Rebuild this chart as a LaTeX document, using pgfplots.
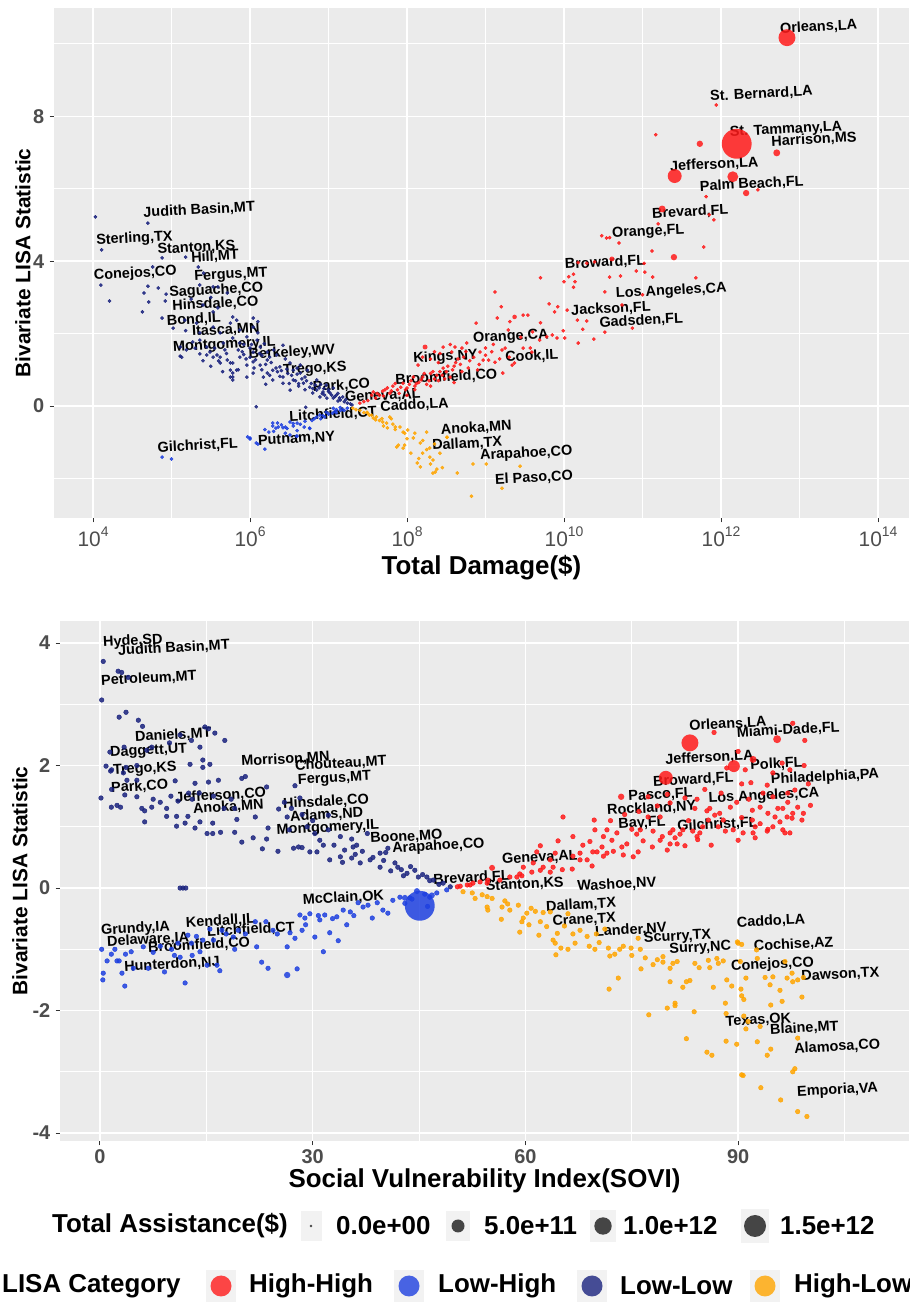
\documentclass[border=0pt]{standalone}
\usepackage{pgfplots}
\pgfplotsset{compat=1.18}
\usepackage{fontspec}
\setmainfont{Liberation Sans}
\definecolor{panelbg}{HTML}{EBEBEB}
\definecolor{tickgray}{HTML}{4D4D4D}
\definecolor{tickc}{HTML}{333333}
\definecolor{hh}{HTML}{FF1A1A}
\definecolor{lh}{HTML}{1E40E0}
\definecolor{ll}{HTML}{1A237E}
\definecolor{hl}{HTML}{FFA500}
\definecolor{keybg}{HTML}{F2F2F2}
\definecolor{dk}{HTML}{333333}
\newcommand{\tp}[1]{10\raisebox{0.48em}{\fontsize{14}{14}\selectfont #1}}
\tikzset{lab/.style={font=\fontsize{14.5}{15}\selectfont\bfseries, anchor=west, inner sep=0pt, rotate=3, text=black}}
\pgfplotsset{panel/.style={scale only axis, axis background/.style={fill=panelbg},
  axis line style={draw=none}, grid=both,
  major grid style={draw=white, line width=1.4bp},
  minor grid style={draw=white, line width=0.7bp},
  tick align=outside, major tick length=4.5bp, minor tick length=0pt,
  tick pos=left, tick style={draw=tickc, line width=1bp}, clip=false,
  yticklabel style={inner sep=0pt, anchor=east, xshift=-5bp},
  xticklabel style={inner sep=0pt, anchor=north, yshift=-4bp}},
  smallpt/.style 2 args={only marks, mark=*, mark size=#1, color=#2, mark options={draw=none, fill=#2, fill opacity=0.85}},
  sized/.style={scatter, only marks, mark=*, color=#1, mark options={draw=none},
   scatter/use mapped color={draw=none, draw opacity=0, fill=#1, fill opacity=0.85},
   visualization depends on={\thisrow{r} \as \rr}, scatter/@pre marker code/.append style={/tikz/mark size=\rr}}
}
\begin{document}
\begin{tikzpicture}[x=1bp,y=1bp]
\path[use as bounding box] (0,0) rectangle (909,1303);
% ================= TOP PANEL =================
\begin{axis}[panel, at={(54bp,785bp)}, anchor=south west, width=855bp, height=510bp,
  xmin=3.503, xmax=14.395, ymin=-3.09, ymax=10.99,
  xtick={4,6,8,10,12,14}, xticklabels={\tp{4},\tp{6},\tp{8},\tp{10},\tp{12},\tp{14}},
  minor xtick={5,7,9,11,13},
  ytick={0,4,8}, yticklabels={0,4,8}, minor ytick={-2,2,6,10},
  xticklabel style={font=\fontsize{21}{21}\selectfont, text=tickgray},
  yticklabel style={font=\fontsize{20}{20}\selectfont\bfseries, text=tickgray},
  xlabel={Total Damage(\$)}, ylabel={Bivariate LISA Statistic},
  xlabel style={font=\fontsize{26}{26}\selectfont\bfseries, at={(axis description cs:0.5,-0.098)}, anchor=center},
  ylabel style={font=\fontsize{21}{21}\selectfont\bfseries, at={(axis description cs:-0.0363,0.5)}, anchor=center},
]
% Low-Low (x = log10 of total damage)
\addplot[smallpt={1.6bp}{ll}] coordinates {
(4.03,5.22) (4.70,5.05) (4.11,4.31) (4.88,4.09) (5.18,4.11) (4.76,3.84) (5.34,3.84) (4.10,3.34) (4.70,3.31) (4.83,3.26)
(4.65,3.12) (5.36,3.34) (5.41,3.67) (5.59,3.29) (4.93,3.09) (4.21,2.90) (4.71,2.87) (4.92,2.90) (4.63,2.60) (4.88,2.43)
(5.02,2.15) (5.18,2.08) (5.11,1.38) (6.04,2.43) (6.10,2.33) (5.75,2.29) (5.83,2.37) (6.08,-0.02) (6.71,-0.03) (6.42,1.68)
(5.75,0.80) (5.85,1.00) (5.40,2.79) (5.53,2.60) (5.59,2.71) (5.87,2.10) (5.62,2.02) (5.36,1.82) (5.45,1.63) (5.66,1.74)
(5.78,1.88) (5.96,1.91) (6.09,1.82) (6.13,1.63) (6.04,1.49) (5.45,1.41) (5.58,1.41) (5.71,1.27) (5.78,1.19) (5.87,1.35)
(5.96,1.13) (6.04,1.22) (6.13,1.13) (6.22,1.27) (6.29,0.99) (6.22,0.91) (6.38,1.08) (6.42,0.80) (6.55,0.72) (6.64,0.91)
(6.68,0.63) (6.76,0.52) (6.85,0.44) (6.93,0.39) (7.02,0.36) (7.06,0.22) (7.15,0.17) (7.24,0.08) (6.80,0.36) (6.89,0.25)
(6.51,0.44) (6.42,0.63) (6.29,0.72) (6.17,0.80) (6.04,0.91) (5.96,0.80) (5.78,0.80) (5.83,0.99) (5.75,1.19) (5.62,1.35)
(5.49,1.49) (5.36,1.44) (5.19,1.55) (5.11,1.63) (5.27,1.77) (5.17,2.37) (5.32,2.29) (5.53,2.18) (5.78,2.46) (6.04,2.18)
(6.10,2.02) (5.87,1.74) (6.22,1.49) (6.34,1.41) (6.51,1.19) (6.55,0.99) (6.64,1.13) (6.73,0.99) (6.85,0.72) (6.97,0.58)
(7.06,0.50) (7.10,0.30) (7.18,0.25) (5.78,0.91) (5.75,0.99) (5.78,0.72) (5.62,1.19) (5.53,1.35) (5.13,1.35) (5.36,2.02)
(5.53,3.29) (5.71,3.12) (5.50,3.00) (5.25,2.95) (6.00,1.60) (6.18,1.72) (6.30,1.55) (6.45,1.30) (6.60,1.05) (6.70,0.80)
(6.90,0.60) (7.00,0.45) (7.12,0.35) (6.25,0.85) (6.35,0.95) (6.48,0.90) (6.58,0.70) (6.62,0.55) (6.95,0.30) (7.20,0.12)
(5.90,1.50) (5.95,1.30) (6.15,1.40) (6.05,1.05) (5.68,1.55) (5.55,1.60) (5.30,1.60) (5.40,1.25) (5.65,0.95) (6.20,0.60)
(5.85,1.55) (5.92,1.42) (6.00,1.35) (6.07,1.28) (6.12,1.45) (6.20,1.15) (6.27,1.20) (6.33,1.05) (6.40,0.98) (6.47,1.02)
(6.53,0.85) (6.60,0.88) (6.66,0.75) (6.72,0.70) (6.78,0.62) (6.83,0.58) (6.88,0.50) (6.94,0.48) (7.00,0.40) (7.04,0.30)
(7.08,0.26) (7.14,0.22) (7.22,0.18) (7.28,0.06) (7.30,0.03) (6.15,1.00) (6.25,1.35) (6.38,0.82) (6.50,0.62) (6.62,0.62)
(6.70,0.45) (6.80,0.48) (6.92,0.34) (6.98,0.22) (7.12,0.14) (5.92,1.70) (6.02,1.70) (5.70,1.45) (5.60,1.25) (5.50,1.10)
};
% Low-High
\addplot[smallpt={1.6bp}{lh}] coordinates {
(6.00,-0.91) (5.97,-0.85) (6.19,-1.19) (6.29,-0.55) (6.35,-0.47) (6.42,-0.60) (6.47,-0.62) (6.51,-0.44) (6.55,-0.55) (6.59,-0.83)
(6.64,-0.50) (6.69,-0.58) (6.76,-0.62) (6.79,-0.40) (6.85,-0.30) (6.93,-0.27) (7.00,-0.22) (7.08,-0.15) (7.15,-0.12) (7.24,-0.06)
(6.19,-0.65) (6.30,-0.70) (4.88,-1.41) (5.00,-1.46) (6.10,-1.05) (6.45,-0.75) (6.60,-0.68) (7.05,-0.20) (7.18,-0.10) (6.29,-0.47)
(6.33,-0.61) (6.45,-0.58) (6.51,-0.80) (6.24,-0.72) (6.60,-0.83) (6.89,-0.25) (6.97,-0.17) (7.06,-0.06) (7.15,-0.04) (6.60,-0.47)
(6.76,-0.61) (6.08,-1.02) (6.00,-0.88) (6.90,-0.35) (7.10,-0.10) (6.40,-0.52) (6.55,-0.48) (6.70,-0.42) (6.82,-0.35) (6.95,-0.30)
(7.10,-0.18) (7.20,-0.12) (6.36,-0.58)
};
% High-Low
\addplot[smallpt={1.6bp}{hl}] coordinates {
(7.31,-0.06) (7.40,-0.12) (7.50,-0.20) (7.61,-0.30) (7.74,-0.47) (7.91,-0.58) (7.97,-0.75) (7.89,-1.08) (7.95,-1.16) (8.10,-0.75)
(8.20,-0.95) (8.17,-1.68) (8.36,-1.82) (8.29,-1.41) (8.51,-0.86) (8.64,-1.85) (8.84,-1.60) (9.01,-1.60) (9.44,-1.66) (9.21,-2.27)
(8.82,-2.49) (8.42,-1.30) (7.65,-0.40) (7.80,-0.35) (7.85,-0.65) (8.00,-0.90) (8.05,-1.30) (8.25,-1.20) (8.30,-1.60) (8.35,-1.05)
(8.15,-1.45) (8.45,-1.70) (7.55,-0.25) (7.70,-0.55) (7.49,-0.17) (7.57,-0.33) (7.69,-0.44) (7.78,-0.30) (7.85,-0.58) (7.95,-0.72)
(8.01,-0.66) (8.08,-0.88) (8.17,-1.02) (8.20,-1.30) (8.25,-0.72) (8.33,-1.49) (8.38,-1.74) (7.87,-1.13) (7.97,-1.08) (8.13,-1.57)
(8.29,-1.16) (8.33,-1.85) (8.51,-0.86) (7.35,-0.10) (7.45,-0.18) (7.52,-0.25) (7.60,-0.38) (7.68,-0.35) (7.75,-0.60) (7.82,-0.50)
};
% High-High
\addplot[smallpt={1.6bp}{hh}] coordinates {
(7.40,0.08) (7.50,0.15) (7.57,0.39) (7.60,0.22) (7.69,0.41) (7.70,0.28) (7.78,0.35) (7.82,0.55) (7.88,0.45) (7.95,0.63)
(8.00,0.50) (8.05,0.70) (8.10,0.55) (8.14,1.13) (8.20,0.80) (8.30,0.90) (8.35,0.75) (8.40,1.20) (8.46,1.05) (8.50,0.95)
(8.57,1.49) (8.60,1.10) (8.65,1.30) (8.70,0.95) (8.75,1.50) (8.80,1.25) (8.93,1.49) (8.97,1.27) (9.04,1.27) (9.12,1.21)
(9.22,0.91) (9.34,1.13) (9.37,1.19) (8.46,1.63) (8.61,1.63) (8.76,1.74) (8.88,2.29) (9.15,2.43) (9.21,1.55) (9.29,2.10)
(9.31,2.33) (9.48,1.60) (9.48,2.51) (9.54,2.51) (9.57,1.60) (9.59,1.49) (9.69,1.82) (9.78,1.91) (9.85,1.96) (9.20,2.74)
(9.12,3.15) (9.70,3.54) (9.81,2.82) (9.92,2.74) (9.88,2.60) (10.04,2.65) (9.99,2.08) (10.01,1.88) (9.91,1.88) (10.17,2.37)
(10.29,2.35) (10.24,2.12) (10.18,1.74) (10.38,1.85) (10.52,2.04) (10.87,2.15) (10.52,3.15) (11.00,3.07) (10.74,2.79) (10.00,3.43)
(10.06,3.57) (10.12,3.64) (10.14,3.43) (10.12,3.28) (10.18,3.96) (10.29,3.94) (10.39,3.98) (10.58,3.56) (10.72,3.59) (10.92,3.73)
(11.03,3.70) (11.13,3.56) (11.68,3.54) (11.02,3.94) (10.48,4.70) (10.54,4.64) (10.58,4.65) (10.70,4.50) (11.12,4.28) (11.78,4.39)
(11.20,5.03) (11.85,5.28) (11.91,5.14) (11.81,5.78) (12.47,5.97) (11.17,7.49) (11.94,8.31) (9.00,1.60) (8.90,1.00) (9.10,1.70)
(9.30,1.35) (9.60,2.05) (9.70,2.30) (9.45,1.90) (7.75,0.50) (7.90,0.35) (8.00,0.30) (8.10,0.45) (8.15,0.65) (8.25,0.60)
(8.30,0.55) (8.40,0.70) (8.45,0.85) (8.55,0.80) (8.60,0.65) (8.20,1.35) (8.30,1.30) (8.35,1.50) (7.65,0.30) (7.92,0.52)
(7.45,0.12) (7.55,0.30) (7.62,0.35) (7.72,0.45) (7.80,0.42) (7.85,0.62) (7.98,0.45) (8.03,0.60) (8.08,0.80) (8.12,0.62)
(8.18,0.72) (8.22,0.90) (8.28,0.70) (8.33,0.95) (8.38,0.85) (8.42,0.95) (8.48,0.75) (8.52,1.10) (8.58,1.00) (8.62,1.20)
(8.68,1.15) (8.72,1.35) (8.78,1.05) (8.85,1.35) (8.92,1.15) (9.00,1.40) (9.08,1.50) (9.18,1.30) (9.25,1.60) (8.42,1.45)
(8.55,1.70) (8.70,1.60)
};
\addplot[sized=hh] table {
x y r
12.84 10.17 8.5
12.20 7.24 15
11.41 6.35 7
12.15 6.33 5.5
11.73 7.24 3.2
12.71 6.99 3.5
12.32 5.88 3.2
11.25 5.44 3.5
11.40 4.11 3.2
10.61 4.06 2.5
8.23 1.63 2.5
9.37 2.46 2.3
};
\node[lab] at (axis cs:4.64,5.33) {Judith Basin,MT};
\node[lab] at (axis cs:4.04,4.56) {Sterling,TX};
\node[lab] at (axis cs:4.82,4.31) {Stanton,KS};
\node[lab] at (axis cs:5.25,4.09) {Hill,MT};
\node[lab] at (axis cs:4.01,3.59) {Conejos,CO};
\node[lab] at (axis cs:5.29,3.56) {Fergus,MT};
\node[lab] at (axis cs:4.97,3.12) {Saguache,CO};
\node[lab] at (axis cs:5.01,2.76) {Hinsdale,CO};
\node[lab] at (axis cs:4.94,2.35) {Bond,IL};
\node[lab] at (axis cs:5.26,2.04) {Itasca,MN};
\node[lab] at (axis cs:5.02,1.60) {Montgomery,IL};
\node[lab] at (axis cs:5.98,1.41) {Berkeley,WV};
\node[lab] at (axis cs:6.42,0.97) {Trego,KS};
\node[lab] at (axis cs:6.80,0.52) {Park,CO};
\node[lab] at (axis cs:7.21,0.22) {Geneva,AL};
\node[lab] at (axis cs:7.85,0.72) {Broomfield,CO};
\node[lab] at (axis cs:8.08,1.30) {Kings,NY};
\node[lab] at (axis cs:7.66,-0.03) {Caddo,LA};
\node[lab] at (axis cs:6.50,-0.30) {Litchfield,CT};
\node[lab] at (axis cs:6.10,-0.97) {Putnam,NY};
\node[lab] at (axis cs:4.82,-1.16) {Gilchrist,FL};
\node[lab] at (axis cs:8.43,-0.66) {Anoka,MN};
\node[lab] at (axis cs:8.32,-1.10) {Dallam,TX};
\node[lab] at (axis cs:8.93,-1.38) {Arapahoe,CO};
\node[lab] at (axis cs:9.12,-2.04) {El Paso,CO};
\node[lab] at (axis cs:8.84,1.85) {Orange,CA};
\node[lab] at (axis cs:9.25,1.33) {Cook,IL};
\node[lab] at (axis cs:10.09,2.62) {Jackson,FL};
\node[lab] at (axis cs:10.45,2.29) {Gadsden,FL};
\node[lab] at (axis cs:10.66,3.09) {Los Angeles,CA};
\node[lab] at (axis cs:10.01,3.90) {Broward,FL};
\node[lab] at (axis cs:10.61,4.75) {Orange,FL};
\node[lab] at (axis cs:11.12,5.30) {Brevard,FL};
\node[lab] at (axis cs:11.73,6.05) {Palm Beach,FL};
\node[lab] at (axis cs:11.35,6.60) {Jefferson,LA};
\node[lab] at (axis cs:12.11,7.54) {St. Tammany,LA};
\node[lab] at (axis cs:12.64,7.29) {Harrison,MS};
\node[lab] at (axis cs:11.86,8.54) {St. Bernard,LA};
\node[lab] at (axis cs:12.75,10.41) {Orleans,LA};
\end{axis}
% ================= BOTTOM PANEL =================
\begin{axis}[panel, at={(60bp,162bp)}, anchor=south west, width=849bp, height=520bp,
  xmin=-5.64, xmax=114.1, ymin=-4.13, ymax=4.36,
  xtick={0,30,60,90}, xticklabels={0,30,60,90}, minor xtick={15,45,75,105},
  ytick={-4,-2,0,2,4}, yticklabels={-4,-2,0,2,4}, minor ytick={-3,-1,1,3},
  tick label style={font=\fontsize{20}{20}\selectfont\bfseries, text=tickgray},
  xlabel={Social Vulnerability Index(SOVI)}, ylabel={Bivariate LISA Statistic},
  xlabel style={font=\fontsize{26}{26}\selectfont\bfseries, at={(axis description cs:0.5,-0.077)}, anchor=center},
  ylabel style={font=\fontsize{21}{21}\selectfont\bfseries, at={(axis description cs:-0.0471,0.5)}, anchor=center},
]
\addplot[smallpt={2.3bp}{ll}] coordinates {
(0.46,3.70) (2.56,3.54) (3.06,3.52) (3.98,3.44) (0.24,3.07) (2.7,2.79) (3.67,2.87) (5.41,2.74) (6.0,2.64) (14.8,2.63)
(15.3,2.60) (16.2,2.53) (17.6,2.41) (11.3,2.50) (9.8,2.37) (12.9,2.41) (14.1,2.30) (1.4,2.22) (3.4,2.30) (6.6,2.25)
(7.3,2.30) (0.85,1.99) (1.64,1.93) (3.67,1.97) (5.2,2.0) (12.7,2.02) (14.5,2.09) (14.5,1.97) (15.5,2.02) (1.5,1.91)
(3.3,1.88) (5.2,1.76) (3.8,1.76) (10.6,1.75) (13.4,1.71) (15.3,1.73) (16.7,1.76) (20.0,1.79) (20.5,1.82) (23.5,1.65)
(27.5,1.67) (0.14,1.47) (1.64,1.61) (3.5,1.52) (5.2,1.49) (7.5,1.45) (2.4,1.35) (1.6,1.32) (2.9,1.32) (5.9,1.30)
(6.3,1.26) (7.3,1.32) (6.3,1.08) (9.4,1.30) (9.4,1.17) (10.8,1.17) (12.0,1.06) (12.4,1.17) (10.8,1.01) (13.4,0.98)
(14.1,1.08) (15.9,1.06) (15.1,0.89) (15.9,0.89) (17.0,0.91) (19.0,0.91) (19.3,1.12) (20.0,0.75) (21.9,1.16) (21.6,0.82)
(22.9,0.64) (23.5,0.80) (23.7,0.98) (25.1,0.60) (25.2,1.29) (26.4,1.16) (26.7,0.95) (27.3,0.65) (28.0,0.67) (28.5,0.66)
(28.2,1.47) (29.6,0.59) (30.6,0.59) (29.2,1.00) (30.3,0.89) (32.2,1.19) (32.2,0.95) (31.0,0.78) (32.4,0.46) (33.9,0.51)
(33.9,0.84) (35.5,0.80) (35.7,0.67) (35.5,0.49) (36.7,0.41) (37.7,0.89) (38.1,0.46) (39.5,0.57) (39.5,0.34) (40.6,0.65)
(41.6,0.41) (42.0,0.34) (43.3,0.24) (44.4,0.29) (44.9,0.18) (46.1,0.18) (47.0,0.13) (48.4,0.08) (49.4,0.02) (11.3,0)
(11.7,0) (12.1,0) (8.5,1.4) (11.0,1.42) (12.5,1.55) (13.0,1.45) (14.0,1.55) (16.0,1.5) (17.5,1.3) (18.5,1.45)
(19.0,1.3) (10.0,1.5) (26.0,1.4) (27.0,1.3) (28.5,1.2) (30.0,1.1) (31.5,0.7) (33.0,0.7) (34.5,0.62) (36.0,0.55)
(37.0,0.6) (38.5,0.5) (40.0,0.45) (41.0,0.28) (42.5,0.3) (43.8,0.35) (45.5,0.22) (46.5,0.12) (47.8,0.06) (40.3,0.58)
(42.8,0.2) (36.2,0.7) (34.2,0.42)
};
\addplot[smallpt={2.3bp}{lh}] coordinates {
(0.24,-1.0) (0.46,-1.39) (0.4,-1.50) (1.0,-1.19) (1.6,-1.08) (2.1,-1.0) (2.4,-1.19) (2.7,-1.19) (3.1,-1.39) (3.5,-1.60)
(3.6,-1.08) (4.4,-1.04) (4.7,-1.31) (6.1,-0.96) (6.8,-1.31) (9.1,-1.37) (10.1,-1.0) (11.3,-1.13) (12.0,-1.55) (12.4,-0.77)
(12.9,-0.90) (13.6,-0.79) (14.1,-1.04) (15.1,-1.26) (15.5,-0.67) (16.5,-1.26) (16.9,-1.35) (17.2,-0.69) (18.8,-0.80) (19.5,-0.69)
(21.9,-0.55) (22.1,-0.96) (22.8,-1.21) (23.4,-0.55) (23.7,-1.31) (24.4,-0.69) (26.4,-0.96) (26.8,-0.73) (27.5,-0.82) (27.8,-1.32)
(28.2,-0.44) (28.5,-0.69) (28.9,-0.49) (29.6,-0.42) (30.3,-0.80) (31.0,-0.52) (31.5,-1.04) (31.7,-0.44) (32.4,-0.73) (33.4,-0.47)
(33.6,-0.86) (34.3,-0.36) (34.8,-0.60) (35.3,-0.39) (36.4,-0.24) (37.1,-0.31) (38.4,-0.49) (39.1,-0.24) (39.9,-0.36) (40.6,-0.41)
(41.3,-0.20) (42.3,-0.15) (43.7,-0.16) (46.5,-0.15) (47.5,-0.08) (48.9,-0.03) (7.5,-1.05) (8.5,-0.95) (10.5,-1.1) (11.0,-0.9)
(13.0,-1.1) (14.5,-0.85) (16.0,-0.85) (17.8,-0.75) (19.0,-1.0) (20.5,-0.75) (25.0,-0.75) (29.0,-0.6) (30.8,-0.45) (32.8,-0.5)
(35.8,-0.45) (37.8,-0.28) (43.0,-0.25) (44.0,-0.18) (45.8,-0.1) (46.2,-0.3)
};
\addplot[sized=lh] table {
x y r
45.1 -0.29 15
26.4 -1.42 3.2
43.0 -0.16 3
44.7 -0.05 3
46.8 -0.12 3
};
\addplot[smallpt={2.3bp}{hl}] coordinates {
(51.2,-0.06) (52.5,-0.08) (52.9,-0.17) (53.9,-0.11) (54.6,-0.14) (55.3,-0.17) (54.6,-0.31) (54.7,-0.36) (56.6,-0.51) (56.7,-0.31)
(57.1,-0.21) (57.5,-0.26) (57.8,-0.36) (59.0,-0.28) (59.2,-0.72) (59.5,-0.55) (59.7,-0.49) (60.2,-0.41) (60.5,-0.60) (60.8,-0.33)
(61.4,-0.38) (61.9,-0.77) (62.1,-0.55) (62.5,-0.40) (63.0,-0.63) (63.5,-0.39) (63.9,-0.85) (64.3,-1.09) (64.5,-0.74) (65.0,-0.98)
(66.0,-1.0) (66.0,-0.42) (66.7,-0.75) (67.7,-0.69) (68.7,-0.79) (69.8,-1.0) (70.4,-0.89) (71.2,-0.67) (71.7,-0.98) (71.9,-1.11)
(71.8,-1.65) (72.6,-1.08) (73.1,-1.47) (73.3,-1.0) (74.9,-0.98) (75.9,-0.82) (76.2,-1.0) (76.3,-1.32) (76.9,-1.14) (77.4,-2.07)
(78.6,-1.17) (79.4,-1.12) (79.4,-1.21) (80.0,-1.96) (80.4,-1.53) (80.4,-1.31) (80.8,-1.23) (81.1,-1.88) (81.1,-1.92) (81.4,-1.2)
(82.2,-1.62) (82.7,-2.46) (82.7,-1.53) (83.2,-1.51) (83.8,-2.02) (83.9,-1.23) (85.6,-2.68) (85.8,-1.18) (86.3,-2.73) (86.5,-1.62)
(87.0,-1.15) (87.2,-1.23) (87.9,-1.19) (88.2,-1.88) (88.3,-2.05) (88.3,-2.50) (88.4,-1.50) (89.1,-1.60) (89.8,-2.55) (90.0,-0.90)
(90.3,-1.2) (90.4,-1.65) (90.5,-1.76) (90.5,-3.05) (90.7,-3.06) (90.8,-1.82) (90.8,-2.09) (91.1,-1.47) (91.1,-2.30) (91.4,-2.18)
(92.7,-1.15) (92.7,-2.51) (93.1,-2.26) (93.2,-3.26) (93.8,-1.46) (94.1,-2.73) (94.5,-1.58) (94.6,-1.91) (94.6,-2.63) (94.9,-1.45)
(95.9,-1.67) (96.0,-3.46) (96.2,-1.85) (96.6,-1.2) (96.9,-1.47) (97.6,-1.39) (97.7,-1.53) (97.7,-3.0) (98.0,-2.95) (98.4,-2.45)
(98.4,-3.65) (99.0,-1.78) (99.2,-1.46) (99.7,-3.73) (98.4,-1.50) (92.6,-1.01) (90.5,-0.92) (89.9,-0.88) (64.2,-0.9) (65.5,-0.62)
(67.0,-0.9) (69.0,-0.95) (70.0,-0.75) (73.8,-0.95) (75.0,-1.1) (78.0,-1.25) (84.5,-1.3) (86.0,-1.3)
};
\addplot[smallpt={2.3bp}{hh}] coordinates {
(86.6,2.54) (97.7,2.69) (99.4,2.41) (90.0,2.23) (91.0,1.93) (94.9,1.88) (96.2,2.04) (99.3,2.0) (97.3,1.93) (88.4,1.96)
(77.3,1.49) (80.0,1.53) (82.5,1.47) (84.2,1.45) (85.3,1.61) (87.6,1.55) (90.5,1.70) (91.8,1.72) (94.1,1.68) (97.0,1.55)
(99.9,1.70) (94.9,1.49) (78.6,1.34) (80.4,1.39) (83.9,1.30) (85.6,1.26) (87.4,1.22) (88.9,1.32) (89.8,1.40) (92.0,1.27)
(93.1,1.32) (94.2,1.22) (96.3,1.30) (98.4,1.32) (99.2,1.22) (97.6,1.14) (99.0,1.11) (95.9,1.08) (94.9,1.00) (93.1,1.05)
(92.4,0.82) (97.3,0.90) (96.6,0.90) (94.2,0.96) (90.7,0.90) (90.0,0.78) (89.3,0.95) (87.9,1.11) (86.7,1.19) (86.0,1.30)
(85.8,1.11) (86.2,0.70) (84.6,0.90) (84.2,0.84) (82.5,0.69) (81.8,0.88) (80.8,0.95) (81.4,0.72) (80.0,0.62) (79.3,0.84)
(79.0,0.78) (77.9,0.67) (78.0,0.93) (76.6,0.77) (75.9,0.59) (75.7,0.88) (75.0,0.96) (74.3,0.72) (73.8,0.54) (72.9,0.90)
(72.2,0.78) (71.5,0.95) (71.0,0.84) (70.8,0.67) (71.0,0.52) (70.1,0.59) (69.8,0.95) (69.7,1.11) (69.1,0.76) (68.1,0.70)
(67.7,0.57) (66.7,0.84) (66.7,0.52) (65.3,1.16) (64.6,0.77) (64.2,0.57) (63.5,0.46) (62.1,0.69) (61.6,0.59) (62.5,0.34)
(61.1,0.41) (60.9,0.26) (59.7,0.34) (59.2,0.23) (57.8,0.18) (54.7,0.13) (53.6,0.10) (52.6,0.08) (51.8,0.05) (50.8,0.03)
(63.9,0.34) (65.2,0.30) (66.6,0.31) (67.7,0.46) (68.7,0.46) (69.4,0.36) (69.5,0.59) (71.5,0.57) (72.4,0.60) (73.6,0.67)
(75.2,0.51) (76.2,0.95) (77.3,1.16) (79.0,1.16) (80.4,0.90) (81.1,0.82) (82.2,0.95) (80.4,0.72) (83.6,0.93) (84.3,0.79)
(87.2,1.00) (88.2,0.93) (92.4,1.00) (92.0,1.11) (95.2,1.16) (96.9,1.16) (97.7,1.22) (94.1,0.93) (96.3,0.95) (92.1,0.90)
(50.4,0.02) (52.2,0.05) (54.6,0.08) (56.4,0.13) (58.8,0.18) (59.5,0.20) (62.1,0.29) (63.5,0.26) (72.0,1.1) (74.0,1.2)
(76.0,1.25) (83.0,1.1) (85.0,1.0) (90.5,1.15) (91.5,1.45) (93.5,1.55) (98.0,1.6) (95.6,1.3) (97.0,1.4) (100.2,1.35)
};
\addplot[sized=hh] table {
x y r
83.2 2.37 8.5
79.8 1.80 7
89.4 1.99 6
95.5 2.43 4
92.1 2.10 3.5
73.5 1.49 3.2
55.3 0.33 3
};
\node[lab] at (axis cs:0.42,4.0) {Hyde,SD};
\node[lab] at (axis cs:2.54,3.87) {Judith Basin,MT};
\node[lab] at (axis cs:0.14,3.38) {Petroleum,MT};
\node[lab] at (axis cs:4.94,2.46) {Daniels,MT};
\node[lab] at (axis cs:1.41,2.20) {Daggett,UT};
\node[lab] at (axis cs:1.83,1.91) {Trego,KS};
\node[lab] at (axis cs:1.55,1.63) {Park,CO};
\node[lab] at (axis cs:10.6,1.47) {Jefferson,CO};
\node[lab] at (axis cs:13.1,1.29) {Anoka,MN};
\node[lab] at (axis cs:19.9,2.06) {Morrison,MN};
\node[lab] at (axis cs:27.5,1.99) {Chouteau,MT};
\node[lab] at (axis cs:27.9,1.75) {Fergus,MT};
\node[lab] at (axis cs:25.8,1.37) {Hinsdale,CO};
\node[lab] at (axis cs:26.8,1.16) {Adams,ND};
\node[lab] at (axis cs:24.9,0.93) {Montgomery,IL};
\node[lab] at (axis cs:38.1,0.80) {Boone,MO};
\node[lab] at (axis cs:41.2,0.64) {Arapahoe,CO};
\node[lab] at (axis cs:47.0,0.13) {Brevard,FL};
\node[lab] at (axis cs:28.6,-0.20) {McClain,OK};
\node[lab] at (axis cs:0.14,-0.70) {Grundy,IA};
\node[lab] at (axis cs:12.1,-0.57) {Kendall,IL};
\node[lab] at (axis cs:0.99,-0.88) {Delaware,IA};
\node[lab] at (axis cs:15.1,-0.72) {Litchfield,CT};
\node[lab] at (axis cs:6.77,-0.98) {Broomfield,CO};
\node[lab] at (axis cs:3.4,-1.29) {Hunterdon,NJ};
\node[lab] at (axis cs:56.7,0.46) {Geneva,AL};
\node[lab] at (axis cs:54.4,0.02) {Stanton,KS};
\node[lab] at (axis cs:67.3,0.02) {Washoe,NV};
\node[lab] at (axis cs:62.9,-0.31) {Dallam,TX};
\node[lab] at (axis cs:63.8,-0.55) {Crane,TX};
\node[lab] at (axis cs:69.8,-0.72) {Lander,NV};
\node[lab] at (axis cs:76.7,-0.83) {Scurry,TX};
\node[lab] at (axis cs:80.3,-1.01) {Surry,NC};
\node[lab] at (axis cs:89.8,-0.57) {Caddo,LA};
\node[lab] at (axis cs:92.2,-0.96) {Cochise,AZ};
\node[lab] at (axis cs:89.0,-1.29) {Conejos,CO};
\node[lab] at (axis cs:98.9,-1.45) {Dawson,TX};
\node[lab] at (axis cs:88.2,-2.19) {Texas,OK};
\node[lab] at (axis cs:94.5,-2.32) {Blaine,MT};
\node[lab] at (axis cs:97.9,-2.63) {Alamosa,CO};
\node[lab] at (axis cs:98.3,-3.34) {Emporia,VA};
\node[lab] at (axis cs:83.1,2.64) {Orleans,LA};
\node[lab] at (axis cs:89.8,2.53) {Miami-Dade,FL};
\node[lab] at (axis cs:79.7,2.09) {Jefferson,LA};
\node[lab] at (axis cs:91.7,2.00) {Polk,FL};
\node[lab] at (axis cs:94.6,1.76) {Philadelphia,PA};
\node[lab] at (axis cs:78.0,1.73) {Broward,FL};
\node[lab] at (axis cs:74.5,1.49) {Pasco,FL};
\node[lab] at (axis cs:85.8,1.45) {Los Angeles,CA};
\node[lab] at (axis cs:71.5,1.26) {Rockland,NY};
\node[lab] at (axis cs:73.1,1.03) {Bay,FL};
\node[lab] at (axis cs:81.4,1.00) {Gilchrist,FL};
\end{axis}
% ================= LEGENDS =================
\begin{scope}[every node/.style={font=\fontsize{26}{26}\selectfont\bfseries, anchor=west, inner sep=0pt}]
\node at (52,77) {Total Assistance(\$)};
\fill[keybg] (301,62) rectangle (322,92); \fill[dk, opacity=0.9] (311,77) circle (1.3);
\node at (336,77) {0.0e+00};
\fill[keybg] (446,62) rectangle (470,92); \fill[dk, opacity=0.9] (458,77) circle (6.5);
\node at (484,77) {5.0e+11};
\fill[keybg] (590,61) rectangle (616,93); \fill[dk, opacity=0.9] (603,77) circle (8.7);
\node at (623,77) {1.0e+12};
\fill[keybg] (741,60) rectangle (769,94); \fill[dk, opacity=0.9] (755,77) circle (11);
\node at (780,77) {1.5e+12};
\node at (2,17) {LISA Category};
\fill[keybg] (206,1) rectangle (236,33); \fill[hh, opacity=0.8] (221,17) circle (10.5);
\node at (249,17) {High-High};
\fill[keybg] (394,1) rectangle (424,33); \fill[lh, opacity=0.8] (409,17) circle (10.5);
\node at (438,17) {Low-High};
\fill[keybg] (577,1) rectangle (607,33); \fill[ll, opacity=0.8] (592,17) circle (10.5);
\node at (620,17) {Low-Low};
\fill[keybg] (750,1) rectangle (780,33); \fill[hl, opacity=0.8] (765,17) circle (10.5);
\node at (794,17) {High-Low};
\end{scope}
\end{tikzpicture}
\end{document}
